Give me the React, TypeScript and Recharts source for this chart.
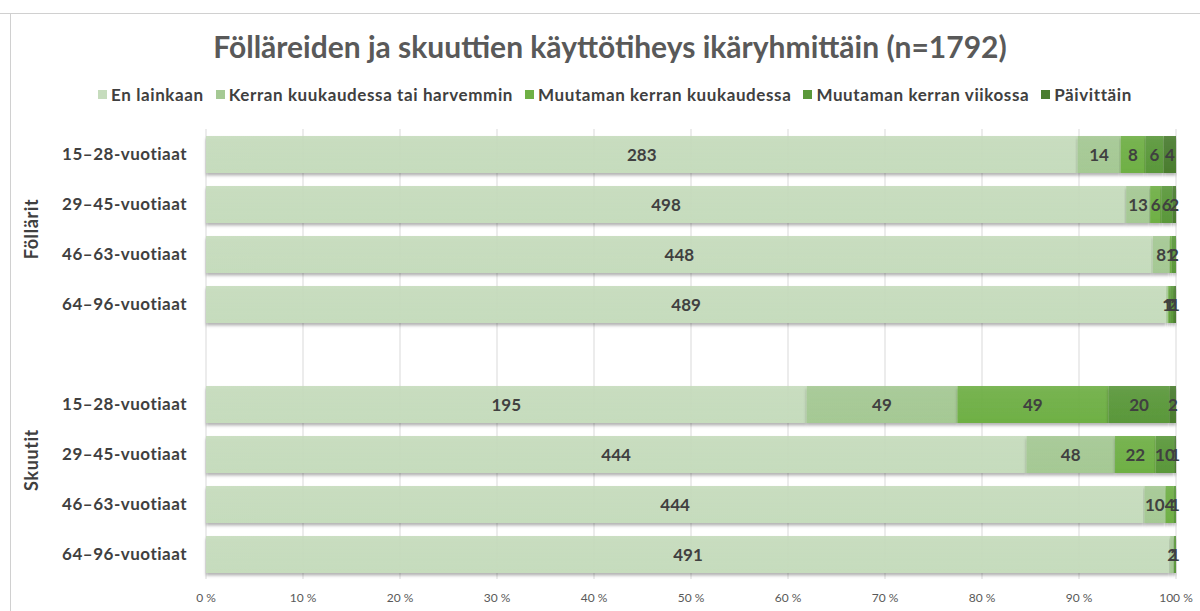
import { BarChart, Bar, XAxis, YAxis, CartesianGrid, LabelList } from "recharts"

const rowIds = ["f1", "f2", "f3", "f4", "gap", "s1", "s2", "s3", "s4"]
const rowLabels = [
  "15–28-vuotiaat",
  "29–45-vuotiaat",
  "46–63-vuotiaat",
  "64–96-vuotiaat",
  "",
  "15–28-vuotiaat",
  "29–45-vuotiaat",
  "46–63-vuotiaat",
  "64–96-vuotiaat",
]

const seriesNames = [
  "En lainkaan",
  "Kerran kuukaudessa tai harvemmin",
  "Muutaman kerran kuukaudessa",
  "Muutaman kerran viikossa",
  "Päivittäin",
]
const seriesColors = ["#c6dcbd", "#a5c994", "#6fb045", "#5a983a", "#4a7d2f"]

// one list per series, in row order (null = the empty gap row)
const enLainkaan = [283, 498, 448, 489, null, 195, 444, 444, 491]
const kerranKuukaudessa = [14, 13, 8, 1, null, 49, 48, 10, 2]
const muutamanKuukaudessa = [8, 6, 1, 1, null, 49, 22, 4, 0]
const muutamanViikossa = [6, 6, 2, 2, null, 20, 10, 1, 1]
const paivittain = [4, 2, 0, 1, null, 2, 1, 0, 0]

const seriesValues = [enLainkaan, kerranKuukaudessa, muutamanKuukaudessa, muutamanViikossa, paivittain]
const xTicks = [0, 0.1, 0.2, 0.3, 0.4, 0.5, 0.6, 0.7, 0.8, 0.9, 1]

const data = rowIds.map((id, i) => {
  const row: Record<string, string | number | null> = { id, label: rowLabels[i] }
  seriesValues.forEach((vals, s) => {
    row[`s${s}`] = vals[i]
  })
  return row
})

const font = "Lato, 'Open Sans', sans-serif"
const textColor = "#404040"

function RowTick(props: any) {
  const { y, index } = props
  const label = rowLabels[index] ?? ""
  return (
    <text
      x={187}
      y={y}
      dy={6}
      textAnchor="end"
      fontFamily={font}
      fontWeight={700}
      fontSize={17}
      letterSpacing={0.5}
      fill={textColor}
    >
      {label}
    </text>
  )
}

export default function App() {
  return (
    <div
      style={{
        position: "absolute",
        left: 0,
        top: 0,
        width: 1200,
        height: 611,
        background: "#fff",
        fontFamily: font,
        overflow: "hidden",
      }}
    >
      <div style={{ position: "absolute", left: 0, top: 13, width: 1200, height: 1, background: "#d0d0d0" }} />
      <div style={{ position: "absolute", left: 10, top: 13, width: 1, height: 598, background: "#d0d0d0" }} />
      <div
        style={{
          position: "absolute",
          left: 0,
          top: 28,
          width: 1220,
          textAlign: "center",
          fontSize: 30,
          fontWeight: 700,
          color: "#595959",
        }}
      >
        Fölläreiden ja skuuttien käyttötiheys ikäryhmittäin (n=1792)
      </div>
      <div
        style={{
          position: "absolute",
          left: 0,
          top: 84,
          width: 1230,
          display: "flex",
          justifyContent: "center",
          gap: 12,
          fontSize: 17,
          letterSpacing: 0.6,
          fontWeight: 700,
          color: textColor,
        }}
      >
        {seriesNames.map((n, i) => (
          <span key={n} style={{ display: "flex", alignItems: "center" }}>
            <span
              style={{ display: "inline-block", width: 9, height: 9, background: seriesColors[i], marginRight: 4 }}
            />
            {n}
          </span>
        ))}
      </div>
      <svg style={{ position: "absolute", left: 0, top: 0 }} width={80} height={611}>
        <text
          transform="translate(38,229) rotate(-90)"
          textAnchor="middle"
          fontFamily={font}
          fontWeight={700}
          fontSize={18}
          letterSpacing={0.6}
          fill={textColor}
        >
          Föllärit
        </text>
        <text
          transform="translate(38,460) rotate(-90)"
          textAnchor="middle"
          fontFamily={font}
          fontWeight={700}
          fontSize={18}
          letterSpacing={0.6}
          fill={textColor}
        >
          Skuutit
        </text>
      </svg>
      <div style={{ position: "absolute", left: 0, top: 0 }}>
        <BarChart
          width={1200}
          height={611}
          data={data}
          layout="vertical"
          stackOffset="expand"
          barSize={37}
          margin={{ top: 129, right: 24, left: 0, bottom: 0 }}
        >
          <defs>
            {seriesColors.map((c, i) => (
              <linearGradient key={c} id={`g${i}`} x1="0" y1="0" x2="0" y2="1">
                <stop offset="0%" stopColor={c} stopOpacity={0.9} />
                <stop offset="100%" stopColor={c} stopOpacity={1} />
              </linearGradient>
            ))}
            <filter id="shadow" x="-5%" y="-20%" width="110%" height="160%">
              <feDropShadow dx="0" dy="2.5" stdDeviation="1.5" floodColor="#000" floodOpacity="0.3" />
            </filter>
          </defs>
          <CartesianGrid horizontal={false} stroke="#d9d9d9" />
          <XAxis
            type="number"
            domain={[0, 1]}
            ticks={xTicks}
            tickFormatter={(v: number) => `${Math.round(v * 100)} %`}
            axisLine={false}
            tickLine={false}
            height={32}
            tick={{ fill: "#595959", fontSize: 12, fontFamily: font }}
            tickMargin={8}
          />
          <YAxis
            type="category"
            dataKey="id"
            width={206}
            axisLine={false}
            tickLine={false}
            interval={0}
            tick={<RowTick />}
          />
          {seriesNames.map((n, i) => (
            <Bar
              key={n}
              dataKey={`s${i}`}
              name={n}
              stackId="a"
              fill={`url(#g${i})`}
              filter="url(#shadow)"
              isAnimationActive={false}
            >
              <LabelList
                dataKey={`s${i}`}
                position="center"
                fill={textColor}
                fontSize={17}
                fontWeight={700}
                fontFamily={font}
              />
            </Bar>
          ))}
        </BarChart>
      </div>
    </div>
  )
}
